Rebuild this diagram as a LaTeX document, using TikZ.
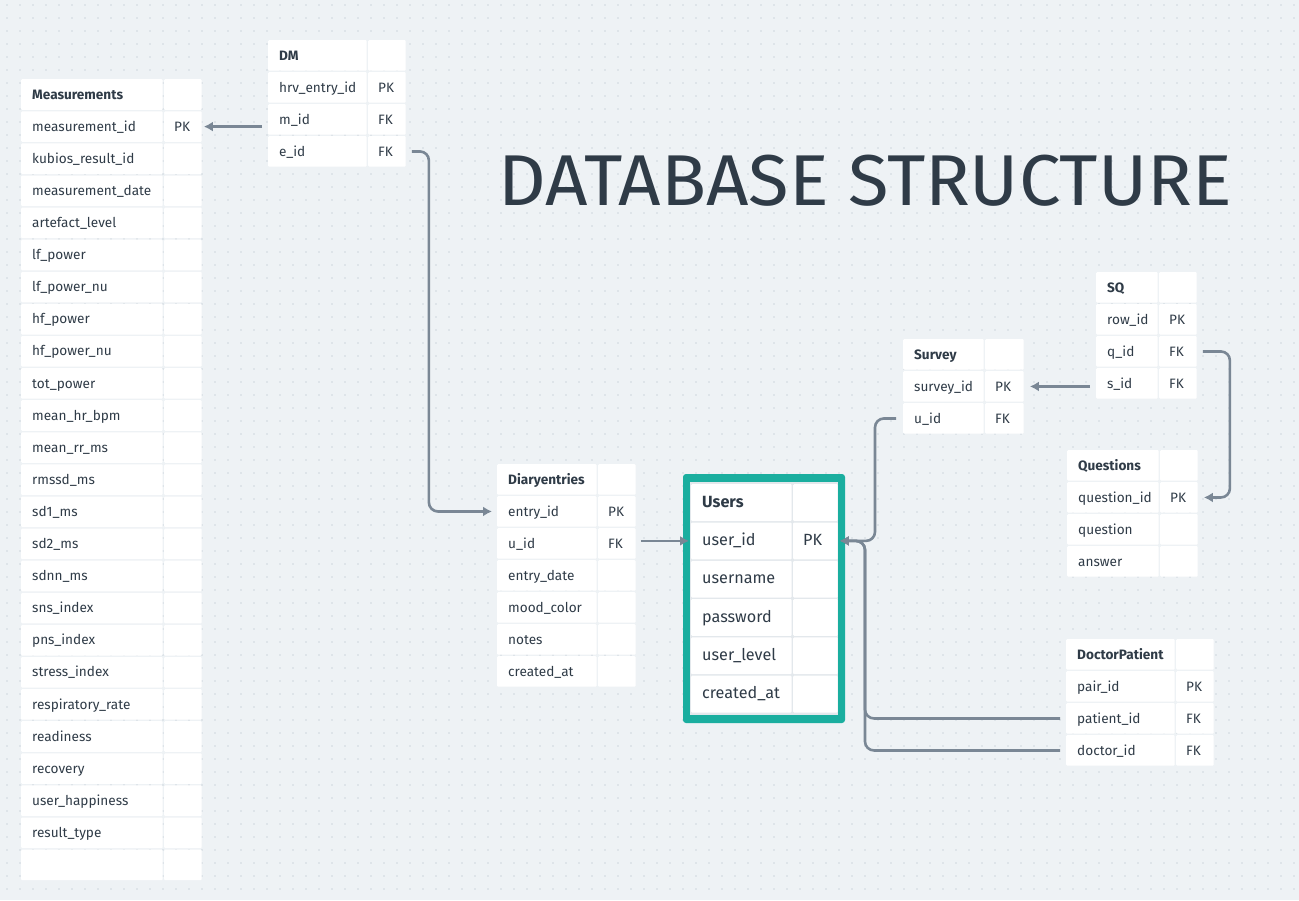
\documentclass[tikz,border=0pt]{standalone}
\usepackage{fontspec}
\setmainfont{Fira Sans}
\usetikzlibrary{arrows.meta}

\definecolor{canvas}{HTML}{EEF2F5}
\definecolor{griddot}{HTML}{C9D1D9}
\definecolor{ink}{HTML}{2F3B47}
\definecolor{link}{HTML}{7A8795}
\definecolor{frame}{HTML}{1AAE9F}
\definecolor{cellgap}{HTML}{E3E8EC}

\newcommand{\tablefont}{\fontsize{13.6}{15}\selectfont}

% #1 name, #2 left, #3 top, #4 field column, #5 key column, #6 row height, #7 title, #8 fields
\newcommand{\erdtable}[8]{%
  \node[cell, minimum width=#4pt-1.5pt, minimum height=#6pt-1.5pt] (#1-0) at (#2,#3) {};
  \node[cell, minimum width=#5pt-1.5pt, minimum height=#6pt-1.5pt] (#1-0-k) at ({#2+#4},#3) {};
  \node[headtext] (#1-0-t) at ([xshift=11pt]#1-0.west) {#7};
  \foreach \fname/\fkey [count=\i] in {#8}{
    \node[cell, minimum width=#4pt-1.5pt, minimum height=#6pt-1.5pt] (#1-\i) at (#2,{#3+\i*#6}) {};
    \node[cell, minimum width=#5pt-1.5pt, minimum height=#6pt-1.5pt] (#1-\i-k) at ({#2+#4},{#3+\i*#6}) {};
    \node[celltext] (#1-\i-t) at ([xshift=11pt]#1-\i.west) {\fname};
    \node[celltext] (#1-\i-kt) at ([xshift=10pt]#1-\i-k.west) {\fkey};
  }%
}

\begin{document}
\begin{tikzpicture}[x=1pt, y=-1pt,
    cell/.style={fill=white, inner sep=0pt, anchor=north west, rounded corners=1pt},
    celltext/.style={anchor=west, inner sep=0pt, yshift=-2.5pt, text=ink, font=\tablefont, text height=1.4ex, text depth=.6ex},
    headtext/.style={celltext, font=\tablefont\bfseries},
    fk/.style={draw=link, line width=2.6pt, rounded corners=9pt, -{Latex[length=9pt,width=10pt]}}]
  \useasboundingbox[fill=canvas] (0,0) rectangle (1299,900);
  \foreach \x in {7,20,...,1299}{
    \fill[griddot] \foreach \y in {5,18,...,900}{(\x-0.7,\y-0.7) rectangle ++(1.4,1.4)};
  }

  \node[anchor=west, text=ink, font=\fontsize{72}{80}\selectfont] (title) at (495,181)
    {\scalebox{1.03}[1]{DATABASE STRUCTURE}};

  \erdtable{meas}{21}{79}{143}{39}{32.1}{Measurements}{measurement\_id/PK, kubios\_result\_id/{},
    measurement\_date/{}, artefact\_level/{}, lf\_power/{}, lf\_power\_nu/{}, hf\_power/{},
    hf\_power\_nu/{}, tot\_power/{}, mean\_hr\_bpm/{}, mean\_rr\_ms/{}, rmssd\_ms/{}, sd1\_ms/{},
    sd2\_ms/{}, sdnn\_ms/{}, sns\_index/{}, pns\_index/{}, stress\_index/{}, respiratory\_rate/{},
    readiness/{}, recovery/{}, user\_happiness/{}, result\_type/{}, {}/{}}
  \erdtable{dm}{268}{40}{100}{39}{32}{DM}{hrv\_entry\_id/PK, m\_id/FK, e\_id/FK}
  \erdtable{diary}{497}{464}{101}{39}{32}{Diaryentries}{entry\_id/PK, u\_id/FK, entry\_date/{},
    mood\_color/{}, notes/{}, created\_at/{}}
  \erdtable{survey}{903}{339}{82}{40}{32}{Survey}{survey\_id/PK, u\_id/FK}
  \erdtable{sq}{1096}{272}{63}{39}{32}{SQ}{row\_id/PK, q\_id/FK, s\_id/FK}
  \erdtable{quest}{1067}{450}{93}{39}{32}{Questions}{question\_id/PK, question/{}, answer/{}}
  \erdtable{dp}{1066}{639}{110}{39}{32}{DoctorPatient}{pair\_id/PK, patient\_id/FK, doctor\_id/FK}

  % users table in its frame
  \fill[frame, rounded corners=3pt] (683,474) rectangle (845,723);
  \fill[cellgap] (690,482) rectangle (838,715);
  \begin{scope}
    \renewcommand{\tablefont}{\fontsize{16.2}{18}\selectfont}
    \erdtable{users}{691}{484}{102}{46}{38.3}{Users}{user\_id/PK, username/{}, password/{},
      user\_level/{}, created\_at/{}}
  \end{scope}

  \draw[fk] ([xshift=-6pt]dm-2.west |- meas-1-k.east) -- ([xshift=2pt]meas-1-k.east);
  \draw[fk] ([xshift=6pt]dm-3-k.east) -- ++(17,0) |- ([xshift=-5pt]diary-1.west);
  \draw[fk] ([xshift=5pt]diary-2-k.east |- users-1.west) -- ([xshift=-2pt]users-1.west);
  \draw[fk] ([xshift=-7pt]survey-2.west) -- ++(-21,0) |- ([xshift=2pt]users-1-k.east);
  \draw[fk] ([xshift=-6pt]sq-3.west |- survey-1-k.east) -- ([xshift=6pt]survey-1-k.east);
  \draw[fk] ([xshift=6pt]sq-2-k.east) -- ++(27,0) |- ([xshift=6pt]quest-1-k.east);
  \draw[fk] ([xshift=-6pt]dp-2.west) -- ++(-195,0) |- ([xshift=2pt]users-1-k.east);
  \draw[fk] ([xshift=-6pt]dp-3.west) -- ++(-195,0) |- ([xshift=2pt]users-1-k.east);
\end{tikzpicture}
\end{document}
